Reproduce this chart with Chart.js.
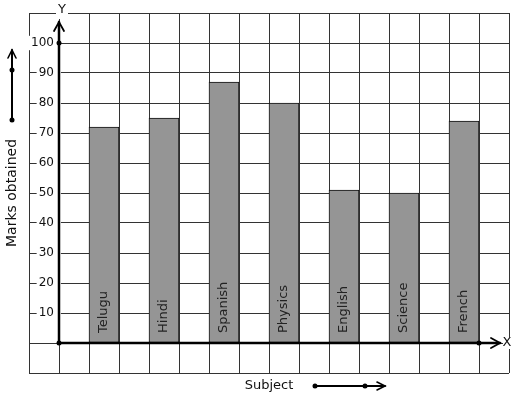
<!DOCTYPE html>
<html>
<head>
<meta charset="utf-8">
<script src="https://cdn.jsdelivr.net/npm/chart.js@4"></script>
<style>
  html, body { margin: 0; padding: 0; background: #fff; }
  #wrap { width: 517px; height: 399px; }
</style>
</head>
<body>
<div id="wrap"><canvas id="marksChart"></canvas></div>
<script>
// marks per subject
const subjects = ["Telugu", "Hindi", "Spanish", "Physics", "English", "Science", "French"];
const marks = [72, 75, 87, 80, 51, 50, 74];

// y axis runs one square below zero to one square above 100
const yMin = -10;
const yMax = 110;
const yStep = 10;

// 16 squares across; the y axis sits after the first, bars on every other square
const squares = 16;
const firstBarSquare = 2;

const slotLabels = [];
const slotValues = [];
for (let i = 0; i < squares; i++) {
    const k = (i - firstBarSquare) / 2;
    if (i >= firstBarSquare && Number.isInteger(k) && k < subjects.length) {
        slotLabels.push(subjects[k]);
        slotValues.push(marks[k]);
    } else {
        slotLabels.push("");
        slotValues.push(null);
    }
}

Chart.defaults.font.family = "DejaVu Sans";
Chart.defaults.color = "#111";

function dot(ctx, x, y) {
    ctx.beginPath();
    ctx.arc(x, y, 2.5, 0, Math.PI * 2);
    ctx.fill();
}

// axes with arrows, dots, bar names, the little direction arrows
const graphPaper = {
    id: "graphPaper",
    afterDraw(chart) {
        const ctx = chart.ctx;
        const xs = chart.scales.x;
        const ys = chart.scales.y;
        const area = chart.chartArea;
        const colW = xs.getPixelForValue(1) - xs.getPixelForValue(0);
        const x0 = xs.getPixelForValue(1) - colW / 2;
        const y0 = ys.getPixelForValue(0);

        ctx.save();
        ctx.strokeStyle = "#000";
        ctx.fillStyle = "#000";
        ctx.lineCap = "round";

        // bar names inside the bars
        const meta = chart.getDatasetMeta(0);
        ctx.font = "13px 'DejaVu Sans'";
        ctx.fillStyle = "#222";
        meta.data.forEach((bar, i) => {
            if (slotValues[i] === null) return;
            ctx.save();
            ctx.translate(bar.x, y0 - 10);
            ctx.rotate(-Math.PI / 2);
            ctx.textAlign = "left";
            ctx.textBaseline = "middle";
            ctx.fillText(slotLabels[i], 0, 0);
            ctx.restore();
        });
        ctx.fillStyle = "#000";

        // y axis
        const yTip = area.top + 9;
        ctx.lineWidth = 2.5;
        ctx.beginPath();
        ctx.moveTo(x0, y0);
        ctx.lineTo(x0, yTip);
        ctx.stroke();
        ctx.lineWidth = 1.8;
        ctx.beginPath();
        ctx.moveTo(x0 - 5, yTip + 9);
        ctx.lineTo(x0, yTip);
        ctx.lineTo(x0 + 5, yTip + 9);
        ctx.stroke();

        // x axis
        const xTip = area.right - 9;
        ctx.lineWidth = 2.5;
        ctx.beginPath();
        ctx.moveTo(x0, y0);
        ctx.lineTo(xTip, y0);
        ctx.stroke();
        ctx.lineWidth = 1.8;
        ctx.beginPath();
        ctx.moveTo(xTip - 9, y0 - 5);
        ctx.lineTo(xTip, y0);
        ctx.lineTo(xTip - 9, y0 + 5);
        ctx.stroke();

        dot(ctx, x0, y0);
        dot(ctx, x0, ys.getPixelForValue(100));
        dot(ctx, xs.getPixelForValue(squares - 2) + colW / 2, y0);

        // axis letters on white
        ctx.font = "13px 'DejaVu Sans'";
        ctx.textAlign = "center";
        ctx.textBaseline = "middle";
        ctx.fillStyle = "#fff";
        ctx.fillRect(x0 - 3, area.top - 6, 12, 12);
        ctx.fillRect(area.right - 6, y0 - 6, 11, 12);
        ctx.fillStyle = "#111";
        ctx.fillText("Y", x0 + 3, area.top - 3);
        ctx.fillText("X", area.right - 2, y0);
        ctx.fillStyle = "#000";

        // upward arrow beside the y title
        const ax = 12;
        const aTop = area.top + 37;
        const aBottom = area.top + 107;
        ctx.lineWidth = 2;
        ctx.beginPath();
        ctx.moveTo(ax, aBottom);
        ctx.lineTo(ax, aTop);
        ctx.stroke();
        ctx.lineWidth = 1.6;
        ctx.beginPath();
        ctx.moveTo(ax - 4, aTop + 8);
        ctx.lineTo(ax, aTop);
        ctx.lineTo(ax + 4, aTop + 8);
        ctx.stroke();
        dot(ctx, ax, aBottom);
        dot(ctx, ax, aTop + 20);

        // rightward arrow beside the x title
        const by = area.bottom + 13;
        const bLeft = 315;
        const bRight = 385;
        ctx.lineWidth = 2;
        ctx.beginPath();
        ctx.moveTo(bLeft, by);
        ctx.lineTo(bRight, by);
        ctx.stroke();
        ctx.lineWidth = 1.6;
        ctx.beginPath();
        ctx.moveTo(bRight - 8, by - 4);
        ctx.lineTo(bRight, by);
        ctx.lineTo(bRight - 8, by + 4);
        ctx.stroke();
        dot(ctx, bLeft, by);
        dot(ctx, bRight - 20, by);

        ctx.restore();
    }
};

const ctx = document.getElementById("marksChart").getContext("2d");

new Chart(ctx, {
    type: "bar",
    data: {
        labels: slotLabels,
        datasets: [{
            data: slotValues,
            backgroundColor: "#959595",
            borderColor: "#111",
            borderWidth: 1,
            borderSkipped: false,
            barPercentage: 1,
            categoryPercentage: 1
        }]
    },
    options: {
        responsive: true,
        maintainAspectRatio: false,
        animation: false,
        layout: { padding: { top: 13, right: 8, left: 0, bottom: 0 } },
        plugins: {
            legend: { display: false },
            tooltip: { enabled: false }
        },
        scales: {
            x: {
                offset: true,
                grid: { color: "#333", lineWidth: 1, offset: true, drawTicks: false },
                border: { display: false },
                ticks: { display: false },
                title: {
                    display: true,
                    text: "Subject",
                    color: "#111",
                    font: { size: 13 },
                    padding: { top: 0, bottom: 6 }
                },
                afterFit: s => { s.height = 26; }
            },
            y: {
                min: yMin,
                max: yMax,
                grid: { color: "#333", lineWidth: 1, drawTicks: false },
                border: { display: false },
                ticks: {
                    stepSize: yStep,
                    mirror: true,
                    crossAlign: "far",
                    padding: 2,
                    color: "#111",
                    font: { size: 12 },
                    showLabelBackdrop: c => c.tick.value > 0 && c.tick.value <= 100,
                    backdropColor: "#fff",
                    backdropPadding: { left: 2, right: 7, top: 0, bottom: 0 },
                    callback: v => (v > 0 && v <= 100) ? v : ""
                },
                title: {
                    display: true,
                    text: "Marks obtained",
                    color: "#111",
                    font: { size: 14 },
                    padding: { top: 4, bottom: 0 }
                },
                afterFit: s => { s.width = 29; }
            }
        }
    },
    plugins: [graphPaper]
});
</script>
</body>
</html>
